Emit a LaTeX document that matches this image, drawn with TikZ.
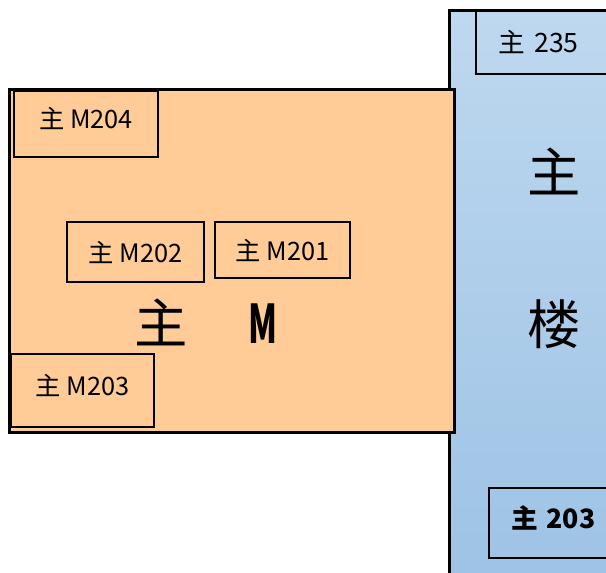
\documentclass[tikz,border=0pt]{standalone}
\usepackage{fontspec}
\setmainfont{Noto Sans CJK SC}
\usepackage{xcolor}
\usepackage{graphicx}
\usetikzlibrary{positioning}

\definecolor{bldgtop}{HTML}{BED8EF}
\definecolor{bldgbot}{HTML}{9CC2E5}
\definecolor{wingfill}{HTML}{FFCB96}

% lift a room label a little above the middle of its box
\newcommand{\roomtxt}[1]{\raisebox{4pt}[\height][\depth]{#1}}

\tikzset{
  room/.style={draw, line width=1.5pt, inner sep=0pt, font=\fontsize{19}{21}\selectfont},
  biglabel/.style={inner sep=0pt, font=\fontsize{40}{44}\selectfont},
}

\begin{document}
\begin{tikzpicture}[x=0.75pt,y=-0.75pt]
    \useasboundingbox (0,0) rectangle (606,572);
    % Main building (blue)
    \draw[line width=2.25pt, top color=bldgtop, bottom color=bldgbot] (449,10) rectangle (640,600);
    % Wing M (orange)
    \draw[line width=2.25pt, fill=wingfill] (9,89) rectangle (454,432);

    % Rooms of wing M
    \node[room, minimum width=108pt, minimum height=49.5pt] (m204) at (86,124) {\roomtxt{主 M204}};
    \node[room, minimum width=102.75pt, minimum height=45pt] (m202) at (135.5,252) {主 M202};
    \node[room, minimum width=101.25pt, minimum height=42pt] (m201) at (282.5,250) {主 M201};
    \node[room, minimum width=107.25pt, minimum height=54.75pt] (m203) at (82.5,390.5) {\roomtxt{主 M203}};

    % Rooms of main building
    \node[room, anchor=north west, text width=110pt, align=left, inner xsep=17pt, minimum height=47pt,
          font=\fontsize{20}{22}\selectfont] (r235) at (475,10) {\raisebox{1.5pt}{主 235}};
    \node[room, anchor=north west, text width=110pt, align=left, inner xsep=16.5pt, minimum height=52.5pt,
          font=\fontsize{20}{22}\selectfont\bfseries] (r203) at (488,487) {\roomtxt{主 203}};

    % Large labels
    \node[biglabel] (wingname) at (206,322) {主\hspace{1.15em}\scalebox{0.62}[1]{\textbf{M}}};
    \node[biglabel] (bldgup) at (554,171) {主};
    \node[biglabel] (bldglow) at (554,324) {楼};
\end{tikzpicture}
\end{document}
